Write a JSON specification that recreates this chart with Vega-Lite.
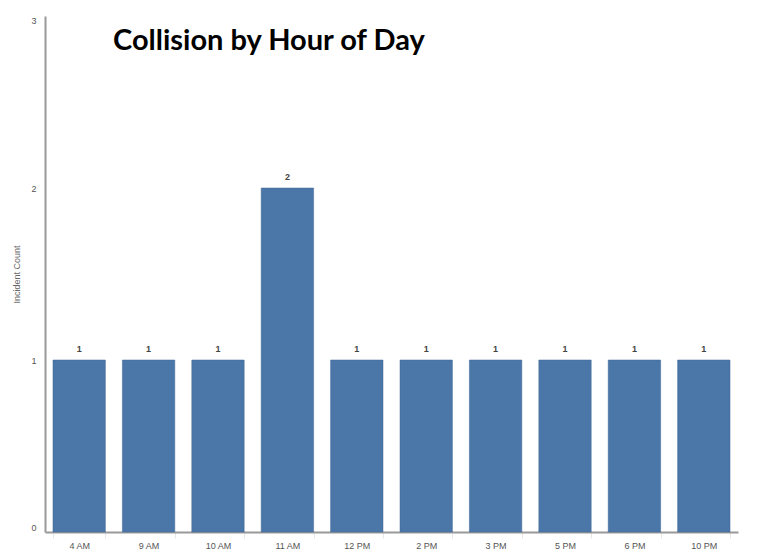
{
  "$schema": "https://vega.github.io/schema/vega-lite/v6.json",
  "autosize": "none",
  "width": 693,
  "height": 516,
  "padding": {"left": 45, "top": 16, "right": 30, "bottom": 28},
  "background": "white",
  "title": {
    "text": "Collision by Hour of Day",
    "anchor": "start",
    "frame": "group",
    "orient": "top",
    "offset": -63,
    "dx": 68,
    "font": "Lato",
    "fontSize": 29,
    "fontWeight": "bold",
    "color": "#000000",
    "baseline": "alphabetic"
  },
  "config": {
    "view": {"stroke": null},
    "axis": {"labelFont": "Liberation Sans", "titleFont": "Liberation Sans", "grid": false}
  },
  "data": {
    "values": [
      {"hour": "4 AM", "count": 1},
      {"hour": "9 AM", "count": 1},
      {"hour": "10 AM", "count": 1},
      {"hour": "11 AM", "count": 2},
      {"hour": "12 PM", "count": 1},
      {"hour": "2 PM", "count": 1},
      {"hour": "3 PM", "count": 1},
      {"hour": "5 PM", "count": 1},
      {"hour": "6 PM", "count": 1},
      {"hour": "10 PM", "count": 1}
    ]
  },
  "encoding": {
    "x": {
      "field": "hour",
      "type": "nominal",
      "sort": null,
      "scale": {"paddingInner": 0.245, "paddingOuter": 0.115},
      "axis": {
        "title": null,
        "labelAngle": 0,
        "labelFontSize": 9,
        "labelColor": "#555555",
        "labelPadding": 3,
        "domainColor": "#999999",
        "domainWidth": 2,
        "tickBand": "extent",
        "tickColor": "#e6e6e6",
        "tickSize": 6
      }
    },
    "y": {
      "field": "count",
      "type": "quantitative",
      "scale": {"domain": [0, 3], "nice": false},
      "axis": {
        "title": "Incident Count",
        "titleFontSize": 9,
        "titleFontWeight": "normal",
        "titleColor": "#666666",
        "titlePadding": 9,
        "values": [0, 1, 2, 3],
        "format": "d",
        "labelFontSize": 9,
        "labelColor": "#555555",
        "labelPadding": 9,
        "labelFlush": true,
        "ticks": false,
        "domainColor": "#999999",
        "domainWidth": 2
      }
    }
  },
  "layer": [
    {
      "mark": {"type": "bar", "color": "#4b77a8", "stroke": "#3e6796", "strokeWidth": 0.5}
    },
    {
      "mark": {"type": "text", "baseline": "bottom", "dy": -6, "fontSize": 9, "fontWeight": "bold", "font": "Liberation Sans", "color": "#444444"},
      "encoding": {"text": {"field": "count", "type": "quantitative"}}
    }
  ]
}
